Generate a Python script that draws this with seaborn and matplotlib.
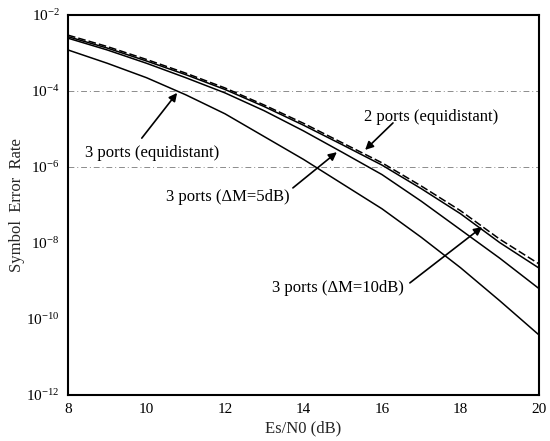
import numpy as np
import pandas as pd
import seaborn as sns
from matplotlib import pyplot as plt
from matplotlib.ticker import LogLocator, LogFormatterMathtext

# values (log10 of the symbol error rate)
esn0_db = [8, 9, 10, 11, 12, 13, 14, 15, 16, 17, 18, 19, 20]
ser_2ports_equi = [-2.53, -2.83, -3.17, -3.53, -3.92, -4.37, -4.85, -5.37, -5.89, -6.5, -7.15, -7.9, -8.55]
ser_3ports_dm10 = [-2.57, -2.87, -3.21, -3.57, -3.96, -4.41, -4.9, -5.42, -5.95, -6.57, -7.23, -7.99, -8.66]
ser_3ports_dm5 = [-2.61, -2.92, -3.27, -3.65, -4.05, -4.52, -5.05, -5.62, -6.2, -6.9, -7.65, -8.4, -9.2]
ser_3ports_equi = [-2.92, -3.27, -3.65, -4.1, -4.6, -5.2, -5.8, -6.45, -7.1, -7.85, -8.65, -9.52, -10.42]

series_names = [
    "2 ports (equidistant)",
    "3 ports (\u0394M=10dB)",
    "3 ports (\u0394M=5dB)",
    "3 ports (equidistant)",
]

frames = []
for name, vals in zip(
    series_names,
    [ser_2ports_equi, ser_3ports_dm10, ser_3ports_dm5, ser_3ports_equi],
):
    frames.append(
        pd.DataFrame({"esn0": esn0_db, "ser": 10.0 ** np.array(vals), "curve": name})
    )
df = pd.concat(frames, ignore_index=True)

sns.set_style("white")
plt.rcParams["font.family"] = ["Liberation Serif", "DejaVu Serif"]
plt.rcParams["mathtext.fontset"] = "stix"

fig = plt.figure(figsize=(5.5, 4.41), dpi=100)
ax = fig.add_axes([68 / 550, 46 / 441, 471 / 550, 380 / 441])

# faint dash-dot grid lines that survived in the scan
for lvl in [1e-4, 1e-6]:
    ax.axhline(lvl, color="0.55", lw=0.7, linestyle=(0, (6, 3, 1, 3)), zorder=0)

sns.lineplot(
    data=df,
    x="esn0",
    y="ser",
    hue="curve",
    style="curve",
    palette={n: "black" for n in series_names},
    dashes={
        series_names[0]: (5, 2),
        series_names[1]: "",
        series_names[2]: "",
        series_names[3]: "",
    },
    linewidth=1.1,
    legend=False,
    ax=ax,
)

ax.set_yscale("log")
ax.set_xlim(8, 20)
ax.set_ylim(1e-12, 1e-2)
ax.set_xticks([8, 10, 12, 14, 16, 18, 20])
ax.yaxis.set_major_locator(LogLocator(base=100))
ax.yaxis.set_major_formatter(LogFormatterMathtext(base=10))
ax.yaxis.set_minor_locator(plt.NullLocator())
ax.tick_params(axis="both", length=0, labelsize=11, pad=6, colors="black")
for sp in ax.spines.values():
    sp.set_color("black")
    sp.set_linewidth(1.5)

ax.set_xlabel("Es/N0 (dB)", fontsize=12, labelpad=3)
ax.set_ylabel("Symbol  Error  Rate", fontsize=12)
ax.yaxis.set_label_coords(-0.092, 0.5)

txt_kw = dict(fontsize=12, ha="center", va="center", color="black")
arrow_kw = dict(arrowstyle="-|>", color="black", lw=1.2, mutation_scale=12, shrinkA=0, shrinkB=0)

ax.text(17.25, 10 ** -4.68, series_names[0], **txt_kw)
ax.annotate("", xy=(15.57, 10 ** -5.55), xytext=(16.28, 10 ** -4.84), arrowprops=arrow_kw)

ax.text(10.14, 10 ** -5.63, series_names[3], **txt_kw)
ax.annotate("", xy=(10.78, 10 ** -4.05), xytext=(9.88, 10 ** -5.24), arrowprops=arrow_kw)

ax.text(12.08, 10 ** -6.79, series_names[2], **txt_kw)
ax.annotate("", xy=(14.85, 10 ** -5.61), xytext=(13.73, 10 ** -6.55), arrowprops=arrow_kw)

ax.text(14.88, 10 ** -9.18, series_names[1], **txt_kw)
ax.annotate("", xy=(18.55, 10 ** -7.58), xytext=(16.71, 10 ** -9.05), arrowprops=arrow_kw)

fig.savefig("out.png", dpi=100)
